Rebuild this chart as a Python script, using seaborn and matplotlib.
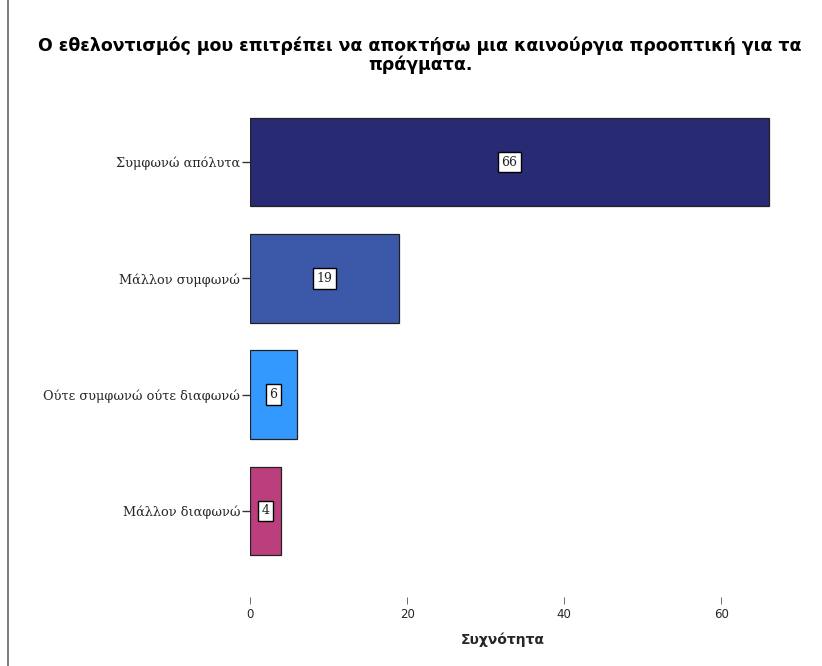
import matplotlib
matplotlib.use("Agg")
import matplotlib.pyplot as plt
import matplotlib.lines as mlines
import seaborn as sns
import pandas as pd

# data
categories = ["Συμφωνώ απόλυτα", "Μάλλον συμφωνώ", "Ούτε συμφωνώ ούτε διαφωνώ", "Μάλλον διαφωνώ"]
counts = [66, 19, 6, 4]
bar_colors = ["#282a73", "#3c58a8", "#3399ff", "#bc3f7d"]
x_ticks = [0, 20, 40, 60]

title = "Ο εθελοντισμός μου επιτρέπει να αποκτήσω μια καινούργια προοπτική για τα\nπράγματα."
x_label = "Συχνότητα"

df = pd.DataFrame({"cat": categories, "n": counts})

sns.set_style("white")
plt.rcParams["font.family"] = ["DejaVu Sans"]

fig = plt.figure(figsize=(8.22, 6.66), dpi=100)
ax = fig.add_axes([250 / 822, 69 / 666, 550 / 822, 497 / 666])

sns.barplot(data=df, x="n", y="cat", hue="cat", palette=bar_colors, order=categories,
            hue_order=categories, legend=False, width=0.76, edgecolor="#222222",
            linewidth=0.9, saturation=1, ax=ax)

# value labels in white boxes
for i, v in enumerate(counts):
    ax.text(v / 2, i, str(v), ha="center", va="center", fontsize=9, family="DejaVu Serif",
            bbox=dict(boxstyle="square,pad=0.3", fc="white", ec="black", lw=1.0))

ax.set_xlim(0, 70)
ax.set_ylim(3 + 86 / 116.3, -62 / 116.3)
ax.set_xticks(x_ticks)
ax.set_xticklabels([str(t) for t in x_ticks], fontsize=8.5)
ax.tick_params(axis="x", length=5, width=0.6, color="#555555", pad=3, bottom=True)
ax.tick_params(axis="y", length=6, width=1.0, color="#333333", pad=1, left=True)
for lab in ax.get_yticklabels():
    lab.set_family("DejaVu Serif")
    lab.set_fontsize(9.3)
for s in ax.spines.values():
    s.set_visible(False)

ax.set_ylabel("")
ax.set_xlabel(x_label, fontsize=10, fontweight="bold")
ax.xaxis.set_label_coords(253 / 550, -0.072)

fig.text(420 / 822, 1 - 55 / 666, title, ha="center", va="center", fontsize=12.5,
         fontweight="bold", linespacing=1.05, color="black")

# left frame line
fig.add_artist(mlines.Line2D([8 / 822, 8 / 822], [0, 1], transform=fig.transFigure,
                             color="#666666", lw=1.2))

fig.savefig("out.png", dpi=100)
